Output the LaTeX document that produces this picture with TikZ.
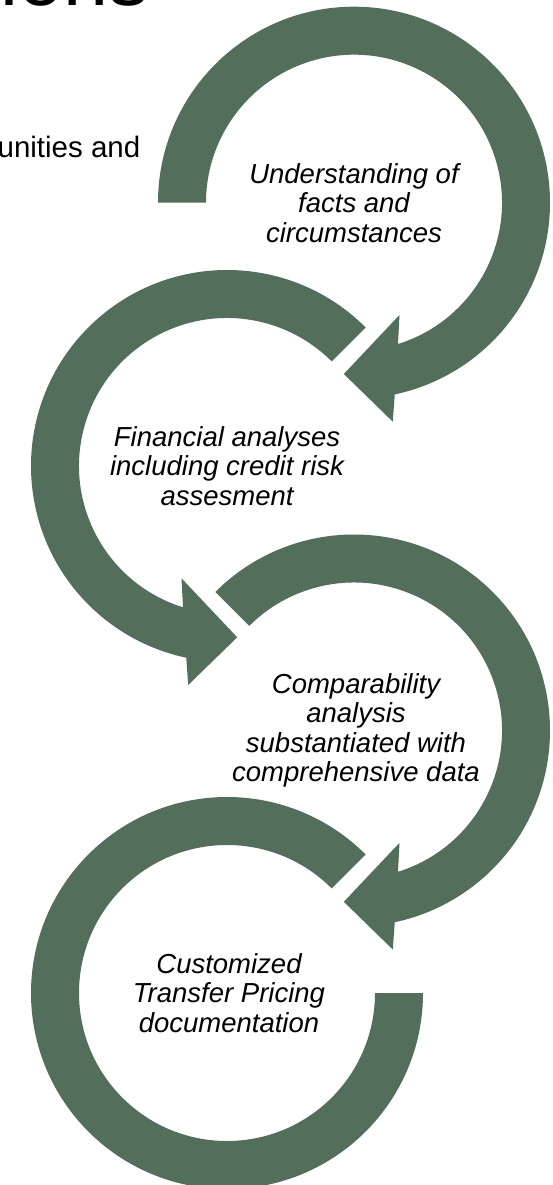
\documentclass[tikz,border=0pt]{standalone}
\usepackage{fontspec}
\setmainfont{Liberation Sans}
\usetikzlibrary{calc}
\definecolor{arrowgreen}{RGB}{83,110,90}
\begin{document}
\begin{tikzpicture}[x=1pt,y=-1pt,
  bandfill/.style={fill=arrowgreen},
  steptext/.style={align=center, inner sep=0pt, text=black,
    font=\fontsize{27.5}{29.5}\selectfont\itshape},
  plaintext/.style={inner sep=0pt, text=black}]
\useasboundingbox (0,0) rectangle (553,1185);
\clip (0,0) rectangle (553,1185);
\fill[white] (0,0) rectangle (553,1185);

\coordinate (c1) at (354,202.7);
\coordinate (c2) at (227,466);
\coordinate (c3) at (354,730.5);
\coordinate (c4) at (227,993);

% arrow 1 (clockwise, head at bottom pointing left)
\fill[bandfill] ($(c1)+(180:196)$) arc[start angle=180, end angle=438, radius=196]
  -- ($(c1)+(38.8,219)$) -- ($(c1)+(-10.2,171.3)$) -- ($(c1)+(45.5,112.3)$)
  -- ($(c1)+(432.7:148)$) arc[start angle=432.7, end angle=180, radius=148] -- cycle;

% arrow 2 (counter-clockwise, head at bottom pointing right)
\fill[bandfill] ($(c2)+(315:196)$) arc[start angle=315, end angle=102, radius=196]
  -- ($(c2)+(-38.8,219)$) -- ($(c2)+(10.2,171.3)$) -- ($(c2)+(-45.5,112.3)$)
  -- ($(c2)+(107.3:148)$) arc[start angle=107.3, end angle=315, radius=148] -- cycle;

% arrow 3 (clockwise, head at bottom pointing left)
\fill[bandfill] ($(c3)+(225:196)$) arc[start angle=225, end angle=438, radius=196]
  -- ($(c3)+(38.8,219)$) -- ($(c3)+(-10.2,171.3)$) -- ($(c3)+(45.5,112.3)$)
  -- ($(c3)+(432.7:148)$) arc[start angle=432.7, end angle=225, radius=148] -- cycle;

% block arc 4
\fill[bandfill] ($(c4)+(0:196)$) arc[start angle=0, end angle=315, radius=196]
  -- ($(c4)+(315:148)$) arc[start angle=315, end angle=0, radius=148] -- cycle;

\node[steptext] (t1) at (c1) {Understanding of\\facts and\\circumstances};
\node[steptext] (t2) at (c2) {Financial analyses\\including credit risk\\assesment};
\node[steptext] (t3) at ($(c3)+(2,0)$) {Comparability\\analysis\\substantiated with\\comprehensive data};
\node[steptext] (t4) at ($(c4)+(2,0)$) {Customized\\Transfer Pricing\\documentation};

\node[plaintext, anchor=base east, font=\fontsize{81}{90}\selectfont] (title) at (149.5,6) {ions};
\node[plaintext, anchor=base east, font=\fontsize{29.5}{35}\selectfont] (intro) at (140.5,157.3) {unities and};
\end{tikzpicture}
\end{document}
